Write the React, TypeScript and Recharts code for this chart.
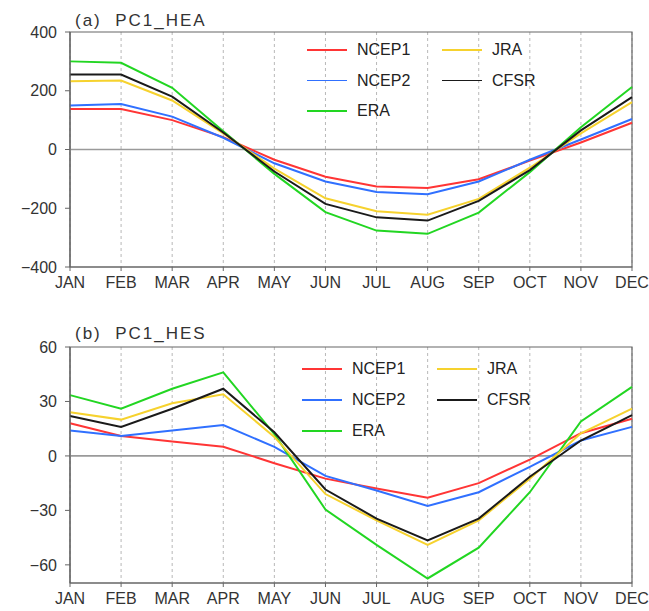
import React from "react";
import {
  LineChart,
  Line,
  XAxis,
  YAxis,
  CartesianGrid,
  ReferenceLine,
  ReferenceArea,
} from "recharts";

const months = ["JAN", "FEB", "MAR", "APR", "MAY", "JUN", "JUL", "AUG", "SEP", "OCT", "NOV", "DEC"];

const heaNcep1 = [138, 138, 100, 42, -35, -93, -126, -131, -101, -38, 24, 91];
const heaNcep2 = [150, 155, 112, 40, -47, -109, -145, -152, -109, -35, 34, 104];
const heaEra = [300, 295, 210, 62, -83, -213, -276, -287, -215, -77, 76, 213];
const heaJra = [232, 235, 167, 55, -65, -166, -210, -222, -168, -62, 55, 161];
const heaCfsr = [255, 255, 180, 58, -75, -185, -231, -242, -175, -70, 65, 178];

const hesNcep1 = [18, 11, 8, 5, -4, -12.5, -18, -23, -15, -2, 12.5, 20.5];
const hesNcep2 = [14, 11, 14, 17, 5, -11, -19, -27.5, -20, -6, 8.5, 16];
const hesEra = [33.5, 26, 37, 46, 12, -29.5, -49, -67.5, -50.5, -20, 19, 38];
const hesJra = [24, 20, 29, 34, 10.5, -21, -35.5, -49, -35.5, -12.5, 12.5, 26];
const hesCfsr = [22, 16, 26, 37, 13, -18.5, -34.5, -46.5, -34.5, -11.5, 8.5, 22.5];

const heaTicks = [-400, -200, 0, 200, 400];
const hesTicks = [-60, -30, 0, 30, 60];

const seriesNames = ["NCEP1", "NCEP2", "ERA", "JRA", "CFSR"];
const seriesColors = ["#ff3535", "#3070ff", "#22d622", "#f6d22e", "#1a1a1a"];

const buildRows = (arrs: number[][]) =>
  months.map((m, i) => {
    const row: Record<string, string | number> = { month: m };
    seriesNames.forEach((n, k) => {
      row[n] = arrs[k][i];
    });
    return row;
  });

const heaData = buildRows([heaNcep1, heaNcep2, heaEra, heaJra, heaCfsr]);
const hesData = buildRows([hesNcep1, hesNcep2, hesEra, hesJra, hesCfsr]);

const FONT = "'Liberation Sans', Arial, sans-serif";
const fmt = (v: number) => (v < 0 ? "\u2212" + Math.abs(v) : String(v));

type PanelProps = {
  data: Record<string, string | number>[];
  ticks: number[];
  domain: [number, number];
  height: number;
  top: number;
  marginTop: number;
  xHeight: number;
};

const Panel = ({ data, ticks, domain, height, top, marginTop, xHeight }: PanelProps) => (
  <div style={{ position: "absolute", left: 0, top }}>
    <LineChart
      width={649}
      height={height}
      data={data}
      margin={{ top: marginTop, right: 17, left: 10, bottom: 3 }}
    >
      <CartesianGrid horizontal={false} vertical strokeDasharray="3 3" stroke="#b0b0b0" strokeWidth={0.9} />
      <XAxis
        dataKey="month"
        height={xHeight}
        tickLine={{ stroke: "#666" }}
        axisLine={{ stroke: "#666", strokeWidth: 1.2 }}
        tickSize={4}
        tickMargin={6}
        interval={0}
        tick={{ fill: "#333", fontSize: 16, fontFamily: FONT }}
      />
      <YAxis
        type="number"
        domain={domain}
        ticks={ticks}
        width={60}
        tickFormatter={fmt}
        tickLine={{ stroke: "#666" }}
        axisLine={{ stroke: "#666", strokeWidth: 1.2 }}
        tickSize={5}
        tickMargin={8}
        interval={0}
        allowDataOverflow
        tick={{ fill: "#333", fontSize: 16, fontFamily: FONT }}
      />
      <ReferenceArea
        x1="JAN"
        x2="DEC"
        y1={domain[0]}
        y2={domain[1]}
        fill="none"
        stroke="#666"
        strokeWidth={1.2}
        ifOverflow="visible"
      />
      <ReferenceLine y={0} stroke="#9a9a9a" strokeWidth={1.6} />
      {seriesNames.map((n, k) => (
        <Line
          key={n}
          type="linear"
          dataKey={n}
          stroke={seriesColors[k]}
          strokeWidth={2}
          dot={false}
          isAnimationActive={false}
        />
      ))}
    </LineChart>
  </div>
);

type LegendProps = { left: number; top: number; rowGap: number };

const LegendBox = ({ left, top, rowGap }: LegendProps) => {
  const colX = [0, 135];
  const items = seriesNames.map((n, k) => ({
    name: n,
    color: seriesColors[k],
    col: k < 3 ? 0 : 1,
    row: k < 3 ? k : k - 3,
  }));
  return (
    <div style={{ position: "absolute", left, top }}>
      {items.map((it) => (
        <div
          key={it.name}
          style={{
            position: "absolute",
            left: colX[it.col],
            top: it.row * rowGap - 10,
            height: 20,
            display: "flex",
            alignItems: "center",
            whiteSpace: "nowrap",
            fontFamily: FONT,
            fontSize: 16,
            color: "#222",
          }}
        >
          <div style={{ width: 40, height: 1.5, background: it.color, marginRight: 10 }} />
          <span>{it.name}</span>
        </div>
      ))}
    </div>
  );
};

const Title = ({ text, left, top }: { text: string; left: number; top: number }) => (
  <div
    style={{
      position: "absolute",
      left,
      top,
      fontFamily: FONT,
      fontSize: 17,
      letterSpacing: 2,
      whiteSpace: "pre",
      color: "#333",
      lineHeight: "17px",
    }}
  >
    {text}
  </div>
);

export default function App() {
  return (
    <div
      style={{
        position: "absolute",
        left: 0,
        top: 0,
        width: 649,
        height: 611,
        background: "#fff",
        overflow: "hidden",
      }}
    >
      <Panel data={heaData} ticks={heaTicks} domain={[-400, 400]} height={300} top={0} marginTop={32} xHeight={30} />
      <Panel data={hesData} ticks={hesTicks} domain={[-70, 60]} height={311} top={300} marginTop={47} xHeight={25} />
      <Title text={"(a)  PC1_HEA"} left={75} top={12} />
      <Title text={"(b)  PC1_HES"} left={75} top={325} />
      <LegendBox left={307} top={50} rowGap={30.5} />
      <LegendBox left={302} top={369} rowGap={31} />
    </div>
  );
}
